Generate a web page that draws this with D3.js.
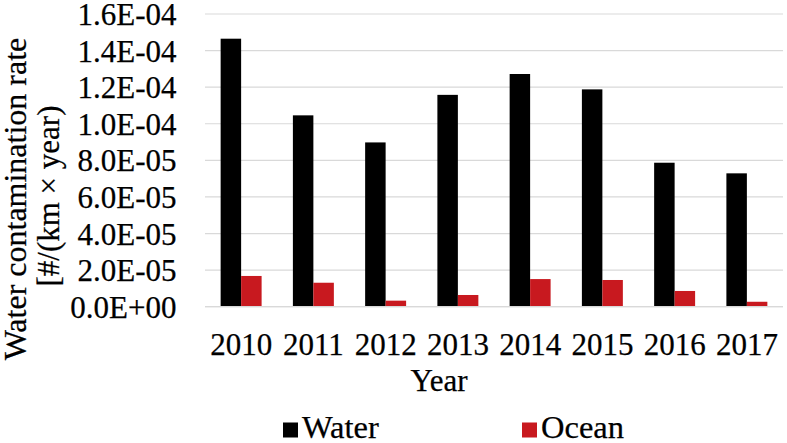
<!DOCTYPE html>
<html>
<head>
<meta charset="utf-8">
<script src="https://cdn.jsdelivr.net/npm/d3@7"></script>
<style>
  html, body { margin: 0; padding: 0; background: #fff; }
  svg { display: block; }
  text { font-family: "Liberation Serif", "Times New Roman", serif; fill: #000; stroke: #000; stroke-width: 0.25px; }
</style>
</head>
<body>
<svg id="chart" width="787" height="443"></svg>
<script>
const categories = ["2010", "2011", "2012", "2013", "2014", "2015", "2016", "2017"];
const seriesNames = ["Water", "Ocean"];
const water = [1.465e-4, 1.046e-4, 0.898e-4, 1.158e-4, 1.272e-4, 1.188e-4, 0.787e-4, 0.729e-4];
const ocean = [1.68e-5, 1.31e-5, 0.33e-5, 0.64e-5, 1.51e-5, 1.46e-5, 0.86e-5, 0.27e-5];
const yTicks = [0, 2e-5, 4e-5, 6e-5, 8e-5, 1e-4, 1.2e-4, 1.4e-4, 1.6e-4];
const yTitleLines = ["Water contamination rate", "[#/(km \u00d7 year)"];
const xTitle = "Year";
const colors = ["#000000", "#c8191f"];

const rows = categories.map((c, i) => ({ cat: c, values: [water[i], ocean[i]] }));

function sciFmt(v) {
  if (v === 0) return "0.0E+00";
  const e = Math.floor(Math.log10(Math.abs(v)) + 1e-9);
  const m = v / Math.pow(10, e);
  const sign = e < 0 ? "-" : "+";
  const ea = String(Math.abs(e)).padStart(2, "0");
  return m.toFixed(1) + "E" + sign + ea;
}

const svg = d3.select("#chart");
const plotL = 205, plotR = 783, plotT = 14, plotB = 306.7;

const x = d3.scaleBand().domain(categories).range([plotL, plotR]).paddingInner(0.433).paddingOuter(0.2165);
const xs = d3.scaleBand().domain(seriesNames).range([0, x.bandwidth()]).padding(0);
const y = d3.scaleLinear().domain([0, 1.6e-4]).range([plotB, plotT]);

// gridlines
svg.append("g").selectAll("line").data(yTicks).join("line")
  .attr("x1", plotL).attr("x2", plotR)
  .attr("y1", d => y(d)).attr("y2", d => y(d))
  .attr("stroke", "#d9d9d9").attr("stroke-width", 1.2);

// y axis labels
const yAxis = d3.axisLeft(y).tickValues(yTicks).tickFormat(sciFmt).tickSize(0).tickPadding(0);
const ya = svg.append("g").attr("transform", "translate(176.5,0)").call(yAxis);
ya.select(".domain").remove();
ya.selectAll("text")
  .attr("font-family", "Liberation Serif")
  .attr("font-size", 31)
  .attr("dy", null)
  .attr("dominant-baseline", "central")
  .attr("fill", "#000");

// bars
const groups = svg.append("g").selectAll("g").data(rows).join("g")
  .attr("transform", d => `translate(${x(d.cat)},0)`);
groups.selectAll("rect").data(d => d.values.map((v, i) => ({ key: seriesNames[i], v, i }))).join("rect")
  .attr("x", d => xs(d.key))
  .attr("width", xs.bandwidth())
  .attr("y", d => y(d.v))
  .attr("height", d => y(0) - y(d.v))
  .attr("fill", d => colors[d.i]);

// x axis baseline
svg.append("line").attr("x1", plotL).attr("x2", plotR).attr("y1", plotB).attr("y2", plotB)
  .attr("stroke", "#d9d9d9").attr("stroke-width", 1.2);

// x axis labels
const xAxis = d3.axisBottom(x).tickSize(0).tickPadding(0);
const xa = svg.append("g").attr("transform", "translate(0,355)").call(xAxis);
xa.select(".domain").remove();
xa.selectAll("text")
  .attr("font-family", "Liberation Serif")
  .attr("font-size", 31)
  .attr("y", 0).attr("dy", null)
  .attr("fill", "#000");

// x title
svg.append("text").attr("x", 439).attr("y", 391).attr("text-anchor", "middle")
  .attr("font-size", 31).text(xTitle);

// y title
svg.append("g").selectAll("text").data(yTitleLines).join("text")
  .attr("transform", (d, i) => `translate(${[26, 59][i]},${[199, 196][i]}) rotate(-90)`)
  .attr("text-anchor", "middle")
  .attr("font-size", (d, i) => [32, 31][i])
  .text(d => d);

// legend
const legendX = [283, 522];
const lg = svg.append("g").selectAll("g").data(seriesNames).join("g")
  .attr("transform", (d, i) => `translate(${legendX[i]},0)`);
lg.append("rect").attr("x", 0).attr("y", 422.5).attr("width", 15).attr("height", 15)
  .attr("fill", (d, i) => colors[i]);
lg.append("text").attr("x", 19).attr("y", 437.5).attr("font-size", 32.5).text(d => d);
</script>
</body>
</html>
